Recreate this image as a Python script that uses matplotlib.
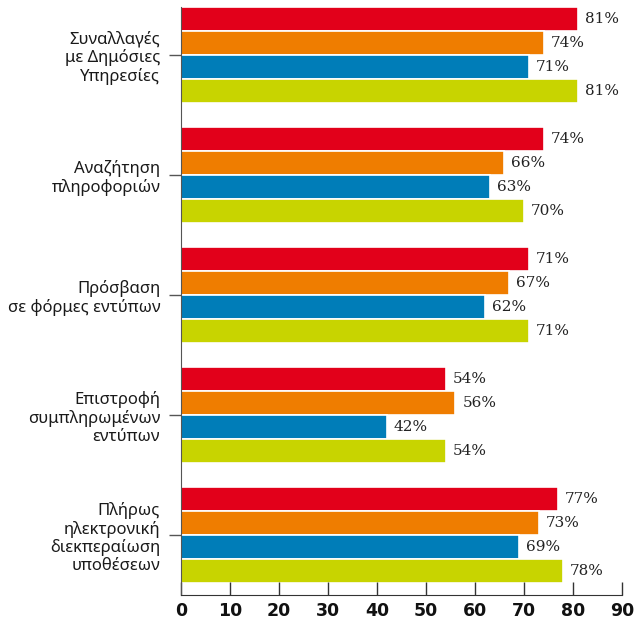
import matplotlib.pyplot as plt
import numpy as np

categories = [
    "Συναλλαγές\nμε Δημόσιες\nΥπηρεσίες",
    "Αναζήτηση\nπληροφοριών",
    "Πρόσβαση\nσε φόρμες εντύπων",
    "Επιστροφή\nσυμπληρωμένων\nεντύπων",
    "Πλήρως\nηλεκτρονική\nδιεκπεραίωση\nυποθέσεων",
]
series_red = [81, 74, 71, 54, 77]
series_orange = [74, 66, 67, 56, 73]
series_blue = [71, 63, 62, 42, 69]
series_green = [81, 70, 71, 54, 78]
x_ticks = [0, 10, 20, 30, 40, 50, 60, 70, 80, 90]

colors = ["#E2001A", "#EF7D00", "#007DB8", "#C8D400"]
series = [series_red, series_orange, series_blue, series_green]

fig = plt.figure(figsize=(6.37, 6.24), dpi=100)
ax = fig.add_axes([181 / 637, 29 / 624, 441 / 637, 588 / 624])

y = np.arange(len(categories))
h = 0.2
for k, (vals, col) in enumerate(zip(series, colors)):
    pos = y - 0.3 + k * h
    ax.barh(pos, vals, height=h, color=col, edgecolor="white", linewidth=1.2)
    for p, v in zip(pos, vals):
        ax.text(v + 1.4, p, f"{v}%", va="center", ha="left",
                fontsize=11, family="DejaVu Serif", color="#222222")

ax.set_xlim(0, 90)
ax.set_ylim(4.5, -0.4)
ax.set_xticks(x_ticks)
ax.set_yticks(y)
ax.set_yticklabels(categories, family="Noto Sans", fontsize=12, color="#1a1a1a",
                   linespacing=1.15)
for t in ax.get_xticklabels():
    t.set_fontweight("bold")
    t.set_fontsize(12.5)
    t.set_color("#111111")

ax.tick_params(axis="x", direction="in", length=9.5, width=1, color="#333333", pad=5)
ax.tick_params(axis="y", direction="out", length=9, width=1, color="#555555", pad=6)
for s in ["top", "right"]:
    ax.spines[s].set_visible(False)
ax.spines["left"].set_color("#555555")
ax.spines["bottom"].set_color("#333333")

plt.savefig("out.png", dpi=100)
